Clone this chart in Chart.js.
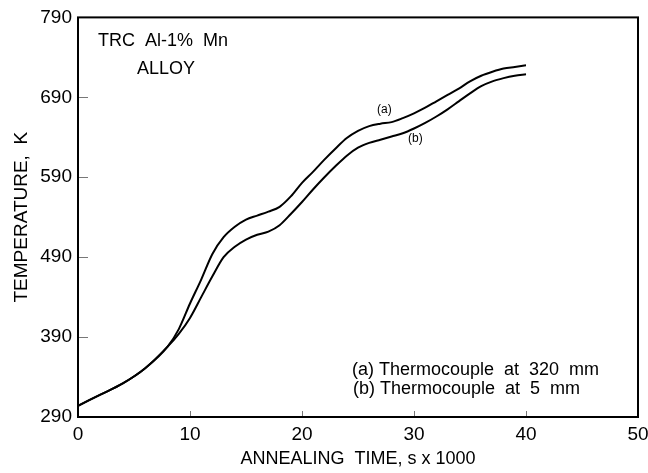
<!DOCTYPE html>
<html>
<head>
<meta charset="utf-8">
<script src="https://cdn.jsdelivr.net/npm/chart.js@4"></script>
<style>
  html, body { margin: 0; padding: 0; background: #fff; }
  #wrap { width: 648px; height: 473px; }
</style>
</head>
<body>
<div id="wrap"><canvas id="annealing"></canvas></div>
<script>
// annealing time, s x 1000
var times = [0, 2, 4, 6, 8, 9, 10, 11, 12, 13, 14, 15, 16, 17, 18, 19, 20, 21, 22, 23, 24, 25, 26, 27, 28, 29, 30, 31, 32, 33, 34, 35, 36, 37, 38, 39, 40];
// (a) thermocouple at 320 mm, K
var tempA = [304, 318, 332, 351, 378, 400, 432, 462, 494, 515, 528, 537, 542, 547, 553, 566, 583, 597, 612, 626, 639, 648, 654, 657, 659, 664, 670, 677, 685, 693, 701, 710, 717, 722, 726, 728, 730];
// (b) thermocouple at 5 mm, K
var tempB = [304, 318, 332, 351, 378, 394, 414, 440, 466, 490, 503, 512, 518, 522, 530, 544, 559, 575, 590, 604, 617, 627, 633, 637, 641, 645, 651, 658, 666, 675, 685, 695, 704, 710, 714, 717, 719];
var xTicks = [0, 10, 20, 30, 40, 50];
var yTicks = [290, 390, 490, 590, 690, 790];

var font = 'Liberation Sans, Arial, sans-serif';

function pts(ys) {
    return times.map(function (t, i) { return { x: t, y: ys[i] }; });
}

// frame, inward ticks and the text notes
var extras = {
    id: 'extras',
    afterDraw: function (chart) {
        var ctx = chart.ctx;
        var a = chart.chartArea;
        var xs = chart.scales.x, ys = chart.scales.y;
        ctx.save();
        ctx.strokeStyle = '#777';
        ctx.lineWidth = 1;
        ctx.beginPath();
        yTicks.forEach(function (v) {
            var py = Math.round(ys.getPixelForValue(v)) + 0.5;
            ctx.moveTo(a.left, py); ctx.lineTo(a.left + 10, py);
        });
        xTicks.forEach(function (v) {
            var px = Math.round(xs.getPixelForValue(v)) + 0.5;
            ctx.moveTo(px, a.bottom); ctx.lineTo(px, a.bottom - 6);
        });
        ctx.stroke();

        ctx.strokeStyle = '#000';
        ctx.lineWidth = 2;
        ctx.strokeRect(a.left, a.top, a.right - a.left, a.bottom - a.top);

        ctx.fillStyle = '#000';
        ctx.textBaseline = 'middle';
        ctx.textAlign = 'left';
        ctx.font = '18px ' + font;
        ctx.fillText('TRC  Al-1%  Mn', 98, 41);
        ctx.fillText('ALLOY', 137, 69);
        ctx.fillText('(a) Thermocouple  at  320  mm', 352, 370);
        ctx.fillText('(b) Thermocouple  at  5  mm', 353, 389);
        ctx.font = '12px ' + font;
        ctx.fillText('(a)', 377, 110);
        ctx.fillText('(b)', 408, 139);
        ctx.restore();
    }
};

new Chart(document.getElementById('annealing').getContext('2d'), {
    type: 'line',
    data: {
        datasets: [{
            label: '(a) Thermocouple at 320 mm',
            data: pts(tempA),
            borderColor: '#000',
            borderWidth: 2,
            pointRadius: 0,
            fill: false,
            cubicInterpolationMode: 'monotone'
        }, {
            label: '(b) Thermocouple at 5 mm',
            data: pts(tempB),
            borderColor: '#000',
            borderWidth: 2,
            pointRadius: 0,
            fill: false,
            cubicInterpolationMode: 'monotone'
        }]
    },
    options: {
        responsive: true,
        maintainAspectRatio: false,
        animation: false,
        layout: { padding: { top: 17, right: 0, left: 0, bottom: 0 } },
        plugins: { legend: { display: false }, tooltip: { enabled: false } },
        scales: {
            x: {
                type: 'linear',
                min: 0, max: 50,
                afterBuildTicks: function (s) { s.ticks = xTicks.map(function (v) { return { value: v }; }); },
                afterFit: function (s) { s.height = 56; s.paddingLeft = 0; s.paddingRight = 10; },
                grid: { display: false, drawTicks: false },
                border: { display: false },
                ticks: { color: '#000', font: { family: font, size: 19 }, padding: 6, maxRotation: 0 },
                title: { display: true, text: 'ANNEALING  TIME, s x 1000', color: '#000', font: { family: font, size: 18 }, padding: { top: 0, bottom: 3 } }
            },
            y: {
                type: 'linear',
                min: 290, max: 790,
                afterBuildTicks: function (s) { s.ticks = yTicks.map(function (v) { return { value: v }; }); },
                afterFit: function (s) { s.width = 78; },
                grid: { display: false, drawTicks: false },
                border: { display: false },
                ticks: { color: '#000', font: { family: font, size: 19 }, padding: 6 },
                title: { display: true, text: 'TEMPERATURE,  K', color: '#000', font: { family: font, size: 19 }, padding: { top: 10, bottom: 0 } }
            }
        }
    },
    plugins: [extras]
});
</script>
</body>
</html>
